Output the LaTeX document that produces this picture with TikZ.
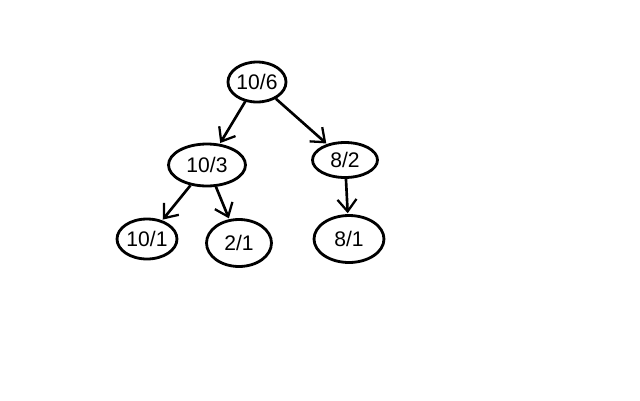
\documentclass[tikz,border=0pt]{standalone}
\usepackage{fontspec}
\setmainfont{Liberation Sans}
\usepackage{tikz}
\usetikzlibrary{arrows.meta,shapes.geometric}
\tikzset{
    every node/.style={font=\fontsize{12}{14}\selectfont},
    cntnode/.style={ellipse,draw,line width=1.6pt,inner sep=0pt},
    cntedge/.style={draw,line width=1.5pt,-{Straight Barb[length=2.4mm,width=3.8mm,line width=1.3pt]},shorten >=0.5pt}
}

\begin{document}
\begin{tikzpicture}[x=0.02cm,y=-0.02cm]
\useasboundingbox[fill=white] (0,0) rectangle (640,400);
% counts per subtree
\node[cntnode,minimum width=1.1cm,minimum height=0.8cm] (root) at (257,82) {10/6};
\node[cntnode,minimum width=1.54cm,minimum height=0.84cm] (left) at (207,165) {10/3};
\node[cntnode,minimum width=1.3cm,minimum height=0.7cm] (right) at (345,160) {8/2};
\node[cntnode,minimum width=1.2cm,minimum height=0.8cm] (ll) at (147,239) {10/1};
\node[cntnode,minimum width=1.3cm,minimum height=0.94cm] (lr) at (239,243) {2/1};
\node[cntnode,minimum width=1.4cm,minimum height=0.94cm] (rr) at (349,239) {8/1};

\draw[cntedge] (root) -- (left);
\draw[cntedge] (root) -- (right);
\draw[cntedge] (left) -- (ll);
\draw[cntedge] (left) -- (lr);
\draw[cntedge] (right) -- (rr);
\end{tikzpicture}
\end{document}
